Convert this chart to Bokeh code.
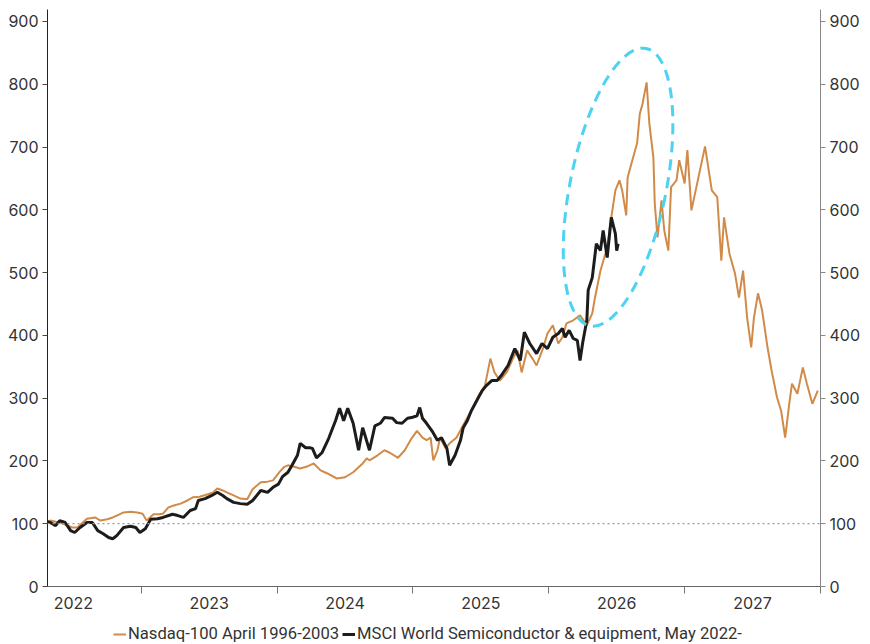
from bokeh.plotting import figure
from bokeh.layouts import column
from bokeh.models import (Range1d, LinearAxis, FixedTicker, CustomJSTickFormatter,
                          Span, Legend, LegendItem)
from bokeh.embed import file_html
from bokeh.resources import INLINE

# x axis: one label per calendar year, ticks at year boundaries
years = [2022, 2023, 2024, 2025, 2026, 2027]
value_ticks = [0, 100, 200, 300, 400, 500, 600, 700, 800, 900]

# Nasdaq-100 April 1996-2003, rebased to 100 (time in decimal years)
nasdaq_x = [2022.31, 2022.33, 2022.37, 2022.40, 2022.46, 2022.49, 2022.53, 2022.57, 2022.60, 2022.66, 2022.70, 2022.75, 2022.79, 2022.82, 2022.87, 2022.92, 2022.97,
            2023.01, 2023.04, 2023.09, 2023.13, 2023.16, 2023.20, 2023.24, 2023.29, 2023.34, 2023.38, 2023.43, 2023.49, 2023.53, 2023.56, 2023.60, 2023.63, 2023.68, 2023.73, 2023.78, 2023.82, 2023.88, 2023.93, 2023.97,
            2024.02, 2024.05, 2024.08, 2024.12, 2024.17, 2024.22, 2024.27, 2024.32, 2024.37, 2024.44, 2024.50, 2024.56, 2024.63, 2024.66, 2024.68, 2024.74, 2024.79, 2024.83, 2024.89, 2024.94, 2024.99,
            2025.03, 2025.07, 2025.10, 2025.13, 2025.15, 2025.18, 2025.20, 2025.24, 2025.27, 2025.32, 2025.36, 2025.40, 2025.44, 2025.49, 2025.53, 2025.57, 2025.60, 2025.64, 2025.69, 2025.74, 2025.77, 2025.80, 2025.84, 2025.88, 2025.91, 2025.96, 2025.99,
            2026.03, 2026.07, 2026.10, 2026.13, 2026.18, 2026.23, 2026.28, 2026.32, 2026.34, 2026.38, 2026.43, 2026.46, 2026.49, 2026.52, 2026.54, 2026.57, 2026.58, 2026.62, 2026.65, 2026.67, 2026.69, 2026.72, 2026.74, 2026.77, 2026.78, 2026.80, 2026.83, 2026.85, 2026.88, 2026.90, 2026.94, 2026.96,
            2027.00, 2027.02, 2027.05, 2027.10, 2027.15, 2027.20, 2027.24, 2027.27, 2027.29, 2027.33, 2027.37, 2027.40, 2027.43, 2027.46, 2027.49, 2027.51, 2027.54, 2027.57, 2027.61, 2027.64, 2027.68, 2027.71, 2027.74, 2027.77, 2027.79, 2027.83, 2027.87, 2027.90, 2027.94, 2027.98]
nasdaq_y = [103, 105, 103, 102, 97, 94, 94, 102, 108, 110, 105, 107, 110, 113, 118, 119, 118,
            116, 105, 115, 115, 116, 126, 129, 132, 137, 142, 143, 147, 150, 156, 153, 150, 145, 140, 139, 155, 166, 167, 169,
            183, 190, 193, 191, 188, 191, 196, 185, 180, 172, 174, 182, 196, 204, 201, 209, 217, 213, 205, 217, 236,
            248, 237, 233, 237, 201, 217, 237, 220, 228, 237, 253, 269, 285, 307, 320, 363, 341, 328, 341, 365, 376, 341, 376, 363, 352, 381, 403,
            416, 387, 397, 419, 424, 432, 416, 435, 460, 503, 540, 588, 631, 647, 631, 591, 651, 683, 706, 753, 769, 803, 738, 683, 610, 556, 615, 567, 535, 636, 647, 679,
            642, 695, 599, 650, 701, 631, 620, 519, 588, 530, 499, 460, 503, 428, 381, 428, 467, 440, 381, 344, 301, 280, 237, 291, 323, 307, 349, 323, 291, 312]

# MSCI World Semiconductor & equipment from May 2022, rebased to 100
msci_x = [2022.31, 2022.33, 2022.37, 2022.40, 2022.44, 2022.48, 2022.51, 2022.55, 2022.60, 2022.64, 2022.68, 2022.72, 2022.76, 2022.79, 2022.82, 2022.87, 2022.92, 2022.96, 2022.99,
          2023.03, 2023.07, 2023.12, 2023.16, 2023.23, 2023.27, 2023.31, 2023.36, 2023.40, 2023.42, 2023.47, 2023.52, 2023.56, 2023.60, 2023.63, 2023.68, 2023.73, 2023.78, 2023.82, 2023.88, 2023.93, 2023.97,
          2024.01, 2024.04, 2024.08, 2024.11, 2024.15, 2024.17, 2024.21, 2024.24, 2024.26, 2024.29, 2024.33, 2024.38, 2024.43, 2024.46, 2024.49, 2024.52, 2024.56, 2024.60, 2024.63, 2024.68, 2024.72, 2024.76, 2024.79, 2024.85, 2024.88, 2024.92, 2024.96, 2024.99,
          2025.03, 2025.05, 2025.07, 2025.10, 2025.14, 2025.18, 2025.21, 2025.25, 2025.27, 2025.31, 2025.35, 2025.37, 2025.40, 2025.43, 2025.47, 2025.51, 2025.54, 2025.58, 2025.62, 2025.65, 2025.70, 2025.75, 2025.79, 2025.82, 2025.86, 2025.91, 2025.95, 2025.99,
          2026.03, 2026.07, 2026.10, 2026.12, 2026.15, 2026.18, 2026.21, 2026.23, 2026.25, 2026.28, 2026.29, 2026.32, 2026.35, 2026.38, 2026.40, 2026.43, 2026.45, 2026.46, 2026.49, 2026.50, 2026.51]
msci_y = [103, 102, 97, 105, 102, 89, 86, 94, 102, 102, 89, 84, 78, 76, 81, 94, 96, 94, 86,
          92, 107, 108, 110, 115, 113, 110, 121, 124, 137, 140, 145, 150, 145, 140, 134, 132, 131, 137, 153, 150, 158,
          163, 175, 182, 193, 209, 228, 221, 221, 220, 205, 213, 236, 264, 284, 264, 284, 260, 217, 253, 217, 256, 260, 269, 268, 261, 260, 268, 269,
          272, 285, 268, 260, 248, 233, 237, 220, 193, 209, 233, 253, 264, 280, 296, 312, 320, 328, 328, 336, 352, 379, 360, 405, 387, 371, 387, 379,
          397, 403, 411, 397, 408, 395, 392, 360, 389, 424, 472, 492, 546, 535, 567, 524, 567, 588, 562, 535, 546]

series_names = ["Nasdaq-100 April 1996-2003", "MSCI World Semiconductor & equipment, May 2022-"]

orange = "#d18a48"
black = "#1c1c1c"
tick_font = "Inter"

p = figure(frame_width=773, frame_height=577, x_range=Range1d(2022.31, 2028.0), y_range=Range1d(0, 919),
           output_backend="svg", toolbar_location=None, tools="",
           min_border_left=47, min_border_right=50, min_border_top=9, min_border_bottom=36)
p.outline_line_color = None
p.xgrid.visible = False
p.ygrid.visible = False

# bottom axis: labels in the middle of each year, small ticks at the year boundaries
p.xaxis.ticker = FixedTicker(ticks=[y + 0.5 for y in years], minor_ticks=[y + 1 for y in years])
p.xaxis.formatter = CustomJSTickFormatter(code="return Math.floor(tick).toString();")
p.xaxis.major_tick_line_color = None
p.xaxis.major_tick_out = 0
p.xaxis.major_tick_in = 0
p.xaxis.minor_tick_out = 7
p.xaxis.minor_tick_in = 0
p.xaxis.minor_tick_line_color = "#777777"
p.xaxis.axis_line_color = "#666666"
p.xaxis.major_label_standoff = 3
p.xaxis.major_label_text_font = tick_font
p.xaxis.major_label_text_font_size = "16px"
p.xaxis.major_label_text_color = "#333333"

p.yaxis.ticker = FixedTicker(ticks=value_ticks)
p.yaxis.minor_tick_line_color = None
p.yaxis.major_tick_out = 5
p.yaxis.major_tick_in = 0
p.yaxis.axis_line_color = "#222222"
p.yaxis.major_tick_line_color = "#444444"
p.yaxis.major_label_standoff = 4
p.yaxis.major_label_text_font = tick_font
p.yaxis.major_label_text_font_size = "16px"
p.yaxis.major_label_text_color = "#333333"

right = LinearAxis(ticker=FixedTicker(ticks=value_ticks))
right.minor_tick_line_color = None
right.major_tick_out = 5
right.major_tick_in = 0
right.axis_line_color = "#888888"
right.major_tick_line_color = "#888888"
right.major_label_standoff = 4
right.major_label_text_font = tick_font
right.major_label_text_font_size = "16px"
right.major_label_text_color = "#333333"
p.add_layout(right, "right")

# reference line at the starting level
p.add_layout(Span(location=100, dimension="width", line_color="#999999",
                  line_dash="2 3", line_width=1.2))

p.line(nasdaq_x, nasdaq_y, line_color=orange, line_width=2)
p.line(msci_x, msci_y, line_color=black, line_width=3)

# dashed ring around the 2026 peak
p.ellipse(x=[2026.51], y=[636], width=96, height=283, angle=-0.2,
          width_units="screen", height_units="screen",
          fill_color=None, line_color="#4dd2f2", line_width=3, line_dash="11 7")

# legend strip under the chart (separate small figure so it sits right below the year labels)
lg = figure(width=870, height=22, x_range=Range1d(0, 1), y_range=Range1d(0, 1),
            output_backend="svg", toolbar_location=None, tools="",
            x_axis_location=None, y_axis_location=None, min_border=0)
lg.outline_line_color = None
lg.xgrid.visible = False
lg.ygrid.visible = False
# one-point lines: nothing visible in the strip, only used for the legend swatches
k_nasdaq = lg.line(x=nasdaq_x[:1], y=nasdaq_y[:1], line_color=orange, line_width=2)
k_msci = lg.line(x=msci_x[:1], y=msci_y[:1], line_color=black, line_width=3)
legend = Legend(items=[LegendItem(label=series_names[0], renderers=[k_nasdaq]),
                       LegendItem(label=series_names[1], renderers=[k_msci])],
                orientation="horizontal", location=(66, 1),
                border_line_color=None, background_fill_alpha=0,
                label_text_font="Roboto", label_text_font_size="16.6px",
                label_text_color="#333333", glyph_width=13, glyph_height=14,
                label_standoff=2, spacing=3, padding=0, margin=0)
lg.add_layout(legend, "center")

layout = column(p, lg, spacing=0)
open("out.html", "w").write(file_html(layout, INLINE))
